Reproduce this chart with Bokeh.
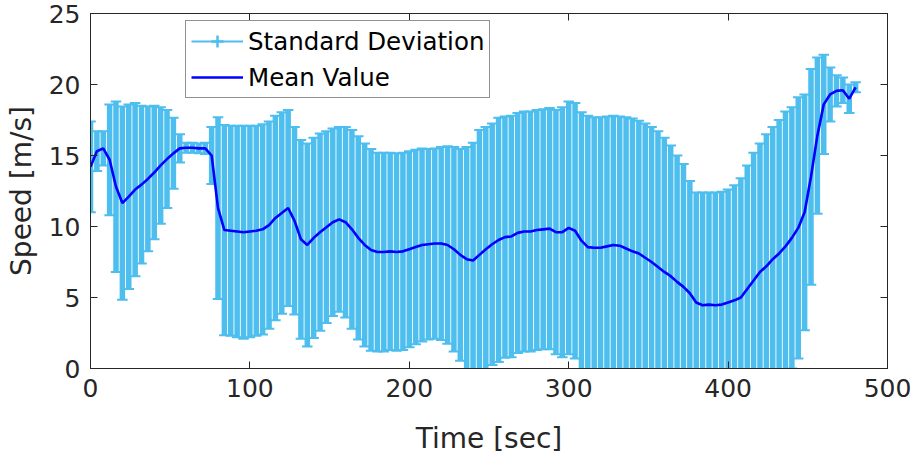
from bokeh.embed import file_html
from bokeh.models import (ColumnDataSource, FixedTicker, Legend, LegendItem,
                          LinearAxis, Range1d)
from bokeh.plotting import figure
from bokeh.resources import INLINE

# ---- data: speed statistics sampled every 4 s -------------------------------
time_sec = [
    0, 4, 8, 12, 16, 20, 24, 28, 32, 36,
    40, 44, 48, 52, 56, 60, 64, 68, 72, 76,
    80, 84, 88, 92, 96, 100, 104, 108, 112, 116,
    120, 124, 128, 132, 136, 140, 144, 148, 152, 156,
    160, 164, 168, 172, 176, 180, 184, 188, 192, 196,
    200, 204, 208, 212, 216, 220, 224, 228, 232, 236,
    240, 244, 248, 252, 256, 260, 264, 268, 272, 276,
    280, 284, 288, 292, 296, 300, 304, 308, 312, 316,
    320, 324, 328, 332, 336, 340, 344, 348, 352, 356,
    360, 364, 368, 372, 376, 380, 384, 388, 392, 396,
    400, 404, 408, 412, 416, 420, 424, 428, 432, 436,
    440, 444, 448, 452, 456, 460, 464, 468, 472, 476,
    480,
]

mean_speed = [
    14.2, 15.3, 15.5, 14.7, 12.8, 11.65, 12.1, 12.6, 12.95, 13.35,
    13.8, 14.3, 14.75, 15.15, 15.5, 15.55, 15.55, 15.5, 15.5, 15.0,
    11.3, 9.75, 9.7, 9.65, 9.6, 9.65, 9.7, 9.8, 10.1, 10.6,
    10.95, 11.3, 10.4, 9.1, 8.7, 9.2, 9.6, 9.95, 10.3, 10.5,
    10.3, 9.8, 9.2, 8.7, 8.35, 8.2, 8.2, 8.25, 8.2, 8.25,
    8.4, 8.55, 8.7, 8.75, 8.8, 8.8, 8.7, 8.4, 8.0, 7.7,
    7.6, 8.0, 8.4, 8.75, 9.05, 9.25, 9.3, 9.55, 9.65, 9.65,
    9.75, 9.8, 9.85, 9.6, 9.6, 9.9, 9.7, 9.0, 8.55, 8.5,
    8.5, 8.6, 8.7, 8.65, 8.45, 8.25, 8.1, 7.8, 7.5, 7.15,
    6.8, 6.5, 6.1, 5.75, 5.3, 4.65, 4.45, 4.5, 4.45, 4.5,
    4.65, 4.8, 5.0, 5.6, 6.2, 6.8, 7.2, 7.7, 8.1, 8.6,
    9.2, 9.9, 11.0, 13.5, 16.4, 18.6, 19.3, 19.55, 19.6, 19.0,
    19.8,
]

std_speed = [
    3.2, 1.4, 1.2, 3.9, 6.0, 6.8, 6.5, 6.1, 5.55, 5.1,
    4.7, 4.1, 3.45, 2.5, 1.0, 0.35, 0.35, 0.35, 0.4, 2.0,
    6.4, 7.4, 7.4, 7.45, 7.5, 7.45, 7.4, 7.4, 7.3, 7.2,
    7.1, 6.9, 6.6, 7.0, 7.15, 7.05, 6.95, 6.75, 6.6, 6.5,
    6.7, 7.0, 7.15, 7.15, 7.1, 7.0, 7.0, 6.95, 6.95, 6.95,
    6.9, 6.85, 6.8, 6.7, 6.7, 6.8, 6.95, 7.2, 7.45, 7.9,
    8.3, 8.8, 8.6, 8.5, 8.6, 8.5, 8.5, 8.45, 8.45, 8.45,
    8.45, 8.45, 8.5, 8.6, 8.8, 8.9, 9.0, 9.05, 9.25, 9.2,
    9.2, 9.15, 9.1, 9.1, 9.25, 9.35, 9.35, 9.45, 9.5, 9.55,
    9.45, 9.2, 8.9, 8.65, 7.9, 7.75, 7.95, 7.9, 7.95, 7.95,
    7.95, 8.1, 8.4, 8.7, 9.0, 9.05, 9.3, 9.3, 9.4, 9.5,
    9.2, 9.2, 8.3, 7.6, 5.5, 3.5, 1.9, 1.1, 0.9, 1.0,
    0.35,
]

x_ticks = [0, 100, 200, 300, 400, 500]
y_ticks = [0, 5, 10, 15, 20, 25]

# ---- styling -----------------------------------------------------------------
ERR_COLOR = "#4DBEEE"
MEAN_COLOR = "#0000FF"
INK = "#262626"
FONT = "DejaVu Sans"
CAP_HALF = 3.3  # half width of the error-bar caps, in seconds

upper = [m + s for m, s in zip(mean_speed, std_speed)]
lower = [m - s for m, s in zip(mean_speed, std_speed)]

src = ColumnDataSource(dict(
    t=time_sec,
    mean=mean_speed,
    upper=upper,
    lower=lower,
    cap_l=[t - CAP_HALF for t in time_sec],
    cap_r=[t + CAP_HALF for t in time_sec],
))

p = figure(
    width=914, height=462,
    x_range=Range1d(0, 500), y_range=Range1d(0, 25),
    output_backend="svg", toolbar_location=None,
    min_border_left=90, min_border_right=27,
    min_border_top=13, min_border_bottom=94,
    x_axis_label="Time [sec]", y_axis_label="Speed [m/s]",
)
p.grid.visible = False
p.outline_line_color = INK
p.outline_line_width = 1
p.background_fill_color = "white"
p.border_fill_color = "white"

# error bars: stems plus top and bottom caps
p.segment(x0="t", y0="lower", x1="t", y1="upper", source=src,
          line_color=ERR_COLOR, line_width=5.5)
p.segment(x0="cap_l", y0="upper", x1="cap_r", y1="upper", source=src,
          line_color=ERR_COLOR, line_width=2)
p.segment(x0="cap_l", y0="lower", x1="cap_r", y1="lower", source=src,
          line_color=ERR_COLOR, line_width=2)

# mean value curve
mean_r = p.line("t", "mean", source=src, line_color=MEAN_COLOR, line_width=2.6)

# legend icon for the error bars (horizontal line crossed by a short bar);
# these renderers hold a single NaN point so they draw nothing in the frame
nan = float("nan")
icon_src = ColumnDataSource(dict(x=[nan], y=[nan]))
icon_line = p.line("x", "y", source=icon_src, line_color=ERR_COLOR, line_width=2)
icon_bar = p.scatter("x", "y", source=icon_src, marker="cross",
                     size=12, line_color=ERR_COLOR, line_width=2.5,
                     fill_color=None)

# axes
def style_axis(ax, ticks, show_labels):
    ax.ticker = FixedTicker(ticks=ticks)
    ax.axis_line_color = INK
    ax.axis_line_width = 1
    ax.major_tick_line_color = INK
    ax.major_tick_in = 7
    ax.major_tick_out = 0
    ax.minor_tick_line_color = None
    ax.major_label_text_font = FONT
    if show_labels:
        ax.major_label_text_color = INK
        ax.major_label_text_font_size = "25px"
    else:
        ax.major_label_text_color = None
        ax.major_label_text_font_size = "1px"
        ax.major_label_standoff = 0

xa = p.xaxis[0]
ya = p.yaxis[0]
style_axis(xa, x_ticks, True)
style_axis(ya, y_ticks, True)
xa.major_label_standoff = 10
ya.major_label_standoff = 10
for ax in (xa, ya):
    ax.axis_label_text_font = FONT
    ax.axis_label_text_font_size = "28px"
    ax.axis_label_text_font_style = "normal"
    ax.axis_label_text_color = INK
xa.axis_label_standoff = 22
ya.axis_label_standoff = 8

top_ax = LinearAxis()
right_ax = LinearAxis()
style_axis(top_ax, x_ticks, False)
style_axis(right_ax, y_ticks, False)
p.add_layout(top_ax, "above")
p.add_layout(right_ax, "right")

legend = Legend(
    items=[
        LegendItem(label="Standard Deviation", renderers=[icon_line, icon_bar]),
        LegendItem(label="Mean Value", renderers=[mean_r]),
    ],
    location=(95, 270),
    margin=0, padding=5, spacing=6,
    glyph_width=52, glyph_height=30, label_height=30,
    label_standoff=5,
    label_text_font=FONT, label_text_font_size="24.5px",
    label_text_color="#000000",
    border_line_color=INK, border_line_width=1,
    background_fill_color="white", background_fill_alpha=1.0,
)
p.add_layout(legend)

open("out.html", "w").write(file_html(p, INLINE))
